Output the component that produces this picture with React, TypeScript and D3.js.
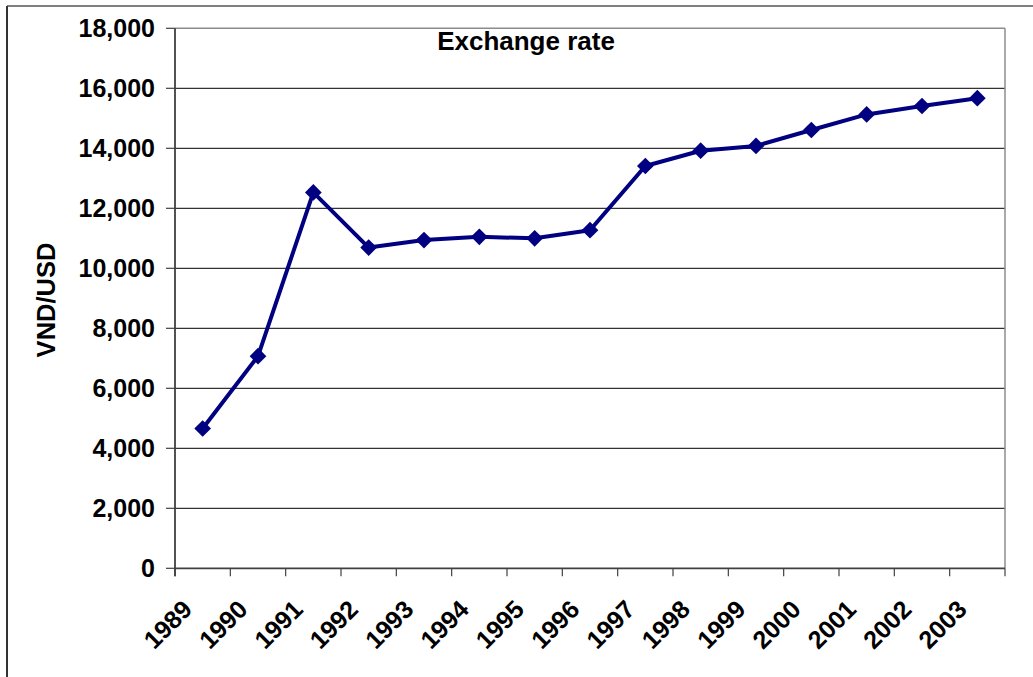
import React from "react";
import * as d3 from "d3";

const years = ["1989","1990","1991","1992","1993","1994","1995","1996","1997","1998","1999","2000","2001","2002","2003"];
const rates = [4660,7070,12530,10690,10940,11050,11000,11270,13410,13920,14080,14610,15130,15410,15670];
const yTicks = [0,2000,4000,6000,8000,10000,12000,14000,16000,18000];
const title = "Exchange rate";
const yTitle = "VND/USD";

const W = 1033, H = 677;
const left = 175, right = 1005, top = 28.3, bottom = 568.3;
const FONT = "Arial, 'Liberation Sans', Helvetica, sans-serif";

export default function App() {
  const x = d3.scaleBand<string>().domain(years).range([left, right]).padding(0);
  const y = d3.scaleLinear().domain([0, 18000]).range([bottom, top]);
  const cx = (d: string) => (x(d) as number) + x.bandwidth() / 2;
  const line = d3.line<number>().x((_, i) => cx(years[i])).y((v) => y(v));
  const fmt = d3.format(",");
  const diamond = d3.symbol().type(d3.symbolSquare).size(140)();
  const boundaries = years.map((d) => x(d) as number).concat([right]);

  return (
    <svg width={W} height={H} style={{ position: "absolute", left: 0, top: 0, background: "#fff" }} fontFamily={FONT}>
      <rect x={0} y={0} width={W} height={H} fill="#fff" />
      <line x1={7} y1={6} x2={W} y2={6} stroke="#000" strokeWidth={1.2} />
      <line x1={7} y1={6} x2={7} y2={H} stroke="#333" strokeWidth={2} />
      {yTicks.filter((t) => t > 0 && t < 18000).map((t) => (
        <line key={t} x1={left} x2={right} y1={y(t)} y2={y(t)} stroke="#000" strokeWidth={1} />
      ))}
      <line x1={left} x2={right} y1={top} y2={top} stroke="#8c8c8c" strokeWidth={1.5} />
      <line x1={right} x2={right} y1={top} y2={bottom} stroke="#8c8c8c" strokeWidth={1.5} />
      <line x1={left} x2={left} y1={top} y2={bottom + 8} stroke="#404040" strokeWidth={1.8} />
      <line x1={left} x2={right} y1={bottom} y2={bottom} stroke="#404040" strokeWidth={1.8} />
      {yTicks.map((t) => (
        <g key={t}>
          <line x1={left - 9} x2={left} y1={y(t)} y2={y(t)} stroke="#404040" strokeWidth={1.2} />
          <text x={155} y={y(t)} dy="0.36em" textAnchor="end" fontSize={25} fontWeight="bold" fill="#000">
            {fmt(t)}
          </text>
        </g>
      ))}
      {boundaries.map((b, i) => (
        <line key={i} x1={b} x2={b} y1={bottom} y2={bottom + 8} stroke="#404040" strokeWidth={1.2} />
      ))}
      {years.map((d) => (
        <text
          key={d}
          transform={`translate(${cx(d) - 9},${611}) rotate(-45)`}
          textAnchor="end"
          fontSize={25}
          fontWeight="bold"
          fill="#000"
        >
          {d}
        </text>
      ))}
      <path d={line(rates) || ""} fill="none" stroke="#000080" strokeWidth={4} strokeLinejoin="round" />
      {rates.map((v, i) => (
        <path key={i} d={diamond || ""} transform={`translate(${cx(years[i])},${y(v)}) rotate(45)`} fill="#000080" />
      ))}
      <text x={526} y={50} textAnchor="middle" fontSize={26} fontWeight="bold" fill="#000">{title}</text>
      <text transform={`translate(55,300) rotate(-90)`} textAnchor="middle" fontSize={25.5} fontWeight="bold" fill="#000">
        {yTitle}
      </text>
    </svg>
  );
}
